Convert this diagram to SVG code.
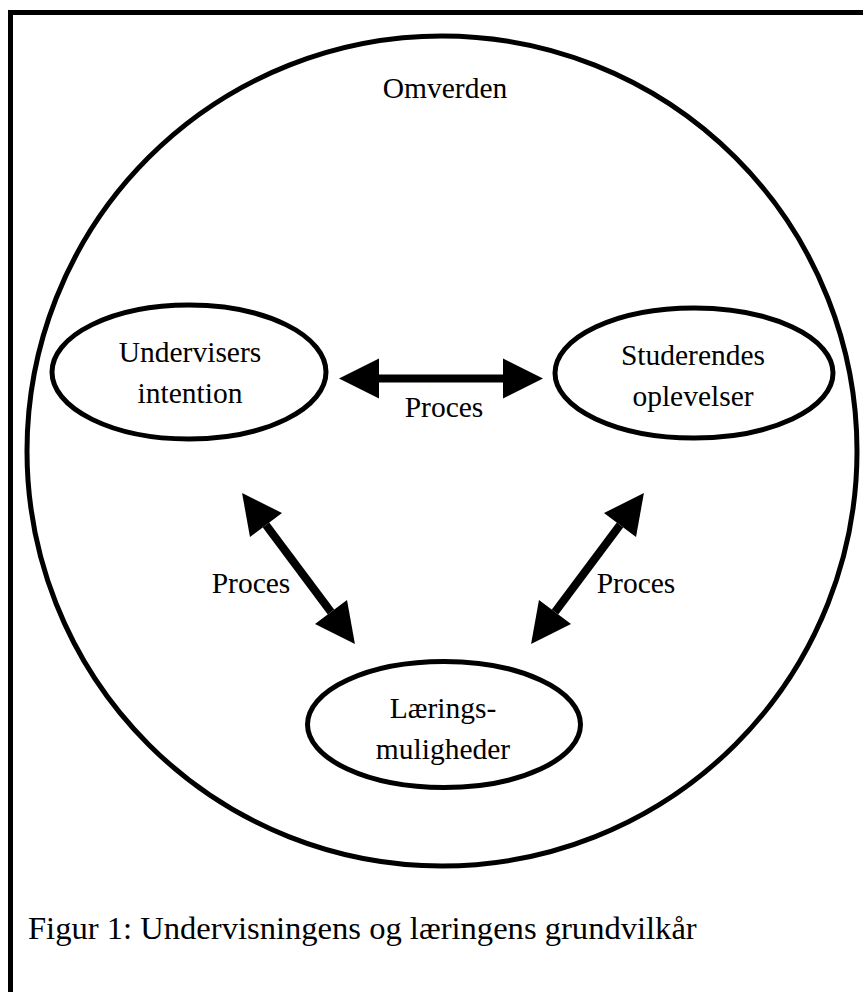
<svg xmlns="http://www.w3.org/2000/svg" width="863" height="992" viewBox="0 0 863 992">
<style>
.t{font-family:"Liberation Serif","Times New Roman",serif;font-size:29.5px;fill:#000;text-anchor:middle}
.cap{font-family:"Liberation Serif","Times New Roman",serif;font-size:32.6px;fill:#000}
.ol{fill:none;stroke:#000;stroke-width:5}
.ar{stroke:#000;stroke-width:8;fill:none;marker-start:url(#h);marker-end:url(#h)}
</style>
<defs>
<marker id="h" markerUnits="userSpaceOnUse" markerWidth="40" markerHeight="40" refX="0" refY="20" orient="auto-start-reverse" overflow="visible">
<path d="M0,0 L40,20 L0,40 Z" fill="#000"/>
</marker>
</defs>
<rect width="863" height="992" fill="#fff"/>
<g id="frame"><rect class="ol" x="10.5" y="12.5" width="900" height="1100"/></g>
<g id="omverden">
<circle class="ol" cx="442" cy="451" r="415"/>
<text class="t" x="445" y="98">Omverden</text>
</g>
<g id="undervisers">
<ellipse class="ol" cx="189" cy="372" rx="137" ry="67"/>
<text class="t" x="190" y="362">Undervisers</text>
<text class="t" x="190" y="403">intention</text>
</g>
<g id="studerendes">
<ellipse class="ol" cx="694" cy="373" rx="139" ry="65"/>
<text class="t" x="693" y="365">Studerendes</text>
<text class="t" x="693" y="406">oplevelser</text>
</g>
<g id="laerings">
<ellipse class="ol" cx="444" cy="724.5" rx="136.5" ry="63"/>
<text class="t" x="443" y="718">Lærings-</text>
<text class="t" x="443" y="759">muligheder</text>
</g>
<g id="connectors">
<line class="ar" x1="379" y1="378.5" x2="503" y2="378.5"/>
<line class="ar" x1="266" y1="525" x2="331" y2="612"/>
<line class="ar" x1="620" y1="525" x2="555" y2="612"/>
<text class="t" x="444" y="417">Proces</text>
<text class="t" x="251" y="593">Proces</text>
<text class="t" x="636" y="593">Proces</text>
</g>
<g id="caption">
<text class="cap" x="28" y="939">Figur 1: Undervisningens og læringens grundvilkår</text>
</g>
</svg>
